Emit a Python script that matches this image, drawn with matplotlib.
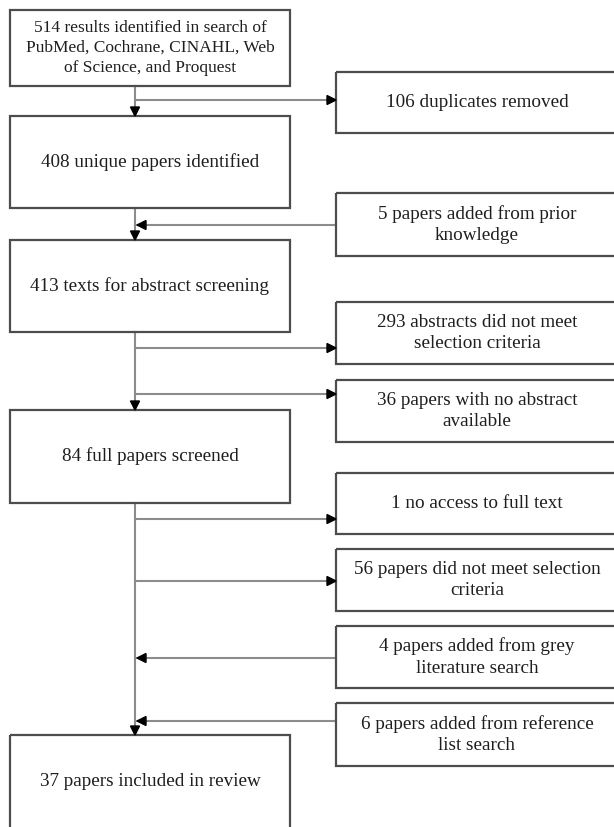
import matplotlib.pyplot as plt
from matplotlib.patches import Rectangle, Polygon

# flow counts and labels
main_labels = [
    "514 results identified in search of\nPubMed, Cochrane, CINAHL, Web\nof Science, and Proquest",
    "408 unique papers identified",
    "413 texts for abstract screening",
    "84 full papers screened",
    "37 papers included in review",
]
side_labels = [
    "106 duplicates removed",
    "5 papers added from prior\nknowledge",
    "293 abstracts did not meet\nselection criteria",
    "36 papers with no abstract\navailable",
    "1 no access to full text",
    "56 papers did not meet selection\ncriteria",
    "4 papers added from grey\nliterature search",
    "6 papers added from reference\nlist search",
]
# +1 = paper added into the flow, -1 = paper removed from the flow
side_kind = [-1, 1, -1, -1, -1, -1, 1, 1]

# layout (pixels, y downward)
main_x0, main_x1 = 10, 290
main_y = [(10, 86), (116, 208), (240, 332), (410, 503), (735, 829)]
side_x0, side_x1 = 336, 620
side_y = [(72, 133), (193, 256), (302, 364), (380, 442),
          (473, 534), (549, 611), (626, 688), (703, 766)]
arrow_y = [100, 225, 348, 394, 519, 581, 658, 721]
line_x = 135

box_col = "#4d4d4d"
line_col = "#8c8c8c"
text_col = "#1e1e1e"
font = "Liberation Serif"
fs = 13.8

fig = plt.figure(figsize=(6.14, 8.27), dpi=100)
ax = fig.add_axes([0, 0, 1, 1])
ax.set_xlim(0, 614)
ax.set_ylim(827, 0)
ax.axis("off")


def head(x, y, d, s=9):
    # filled triangle with its tip at (x, y)
    if d == "down":
        pts = [(x, y), (x - s / 2, y - s), (x + s / 2, y - s)]
    elif d == "right":
        pts = [(x, y), (x - s, y - s / 2), (x - s, y + s / 2)]
    else:
        pts = [(x, y), (x + s, y - s / 2), (x + s, y + s / 2)]
    ax.add_patch(Polygon(pts, closed=True, color="black", zorder=4))


for i, (lab, (y0, y1)) in enumerate(zip(main_labels, main_y)):
    ax.add_patch(Rectangle((main_x0, y0), main_x1 - main_x0, y1 - y0,
                           fill=False, ec=box_col, lw=1.6, zorder=3))
    size = 12.5 if "\n" in lab else fs
    ax.text((main_x0 + main_x1) / 2, (y0 + y1) / 2, lab, ha="center",
            va="center", fontsize=size, family=font, color=text_col,
            linespacing=1.36)

for lab, (y0, y1) in zip(side_labels, side_y):
    ax.add_patch(Rectangle((side_x0, y0), side_x1 - side_x0, y1 - y0,
                           fill=False, ec=box_col, lw=1.6, zorder=3))
    ax.text(477, (y0 + y1) / 2, lab, ha="center", va="center",
            fontsize=fs, family=font, color=text_col, linespacing=1.36)

# vertical spine between main boxes
for (a0, a1), (b0, b1) in zip(main_y[:-1], main_y[1:]):
    ax.plot([line_x, line_x], [a1, b0], color=line_col, lw=1.5, zorder=2)
    head(line_x, b0, "down")

# side branches
for k, y in zip(side_kind, arrow_y):
    ax.plot([line_x, side_x0], [y, y], color=line_col, lw=1.5, zorder=2)
    if k < 0:
        head(side_x0, y, "right")
    else:
        head(line_x + 2, y, "left")

fig.savefig("out.png", dpi=100)
